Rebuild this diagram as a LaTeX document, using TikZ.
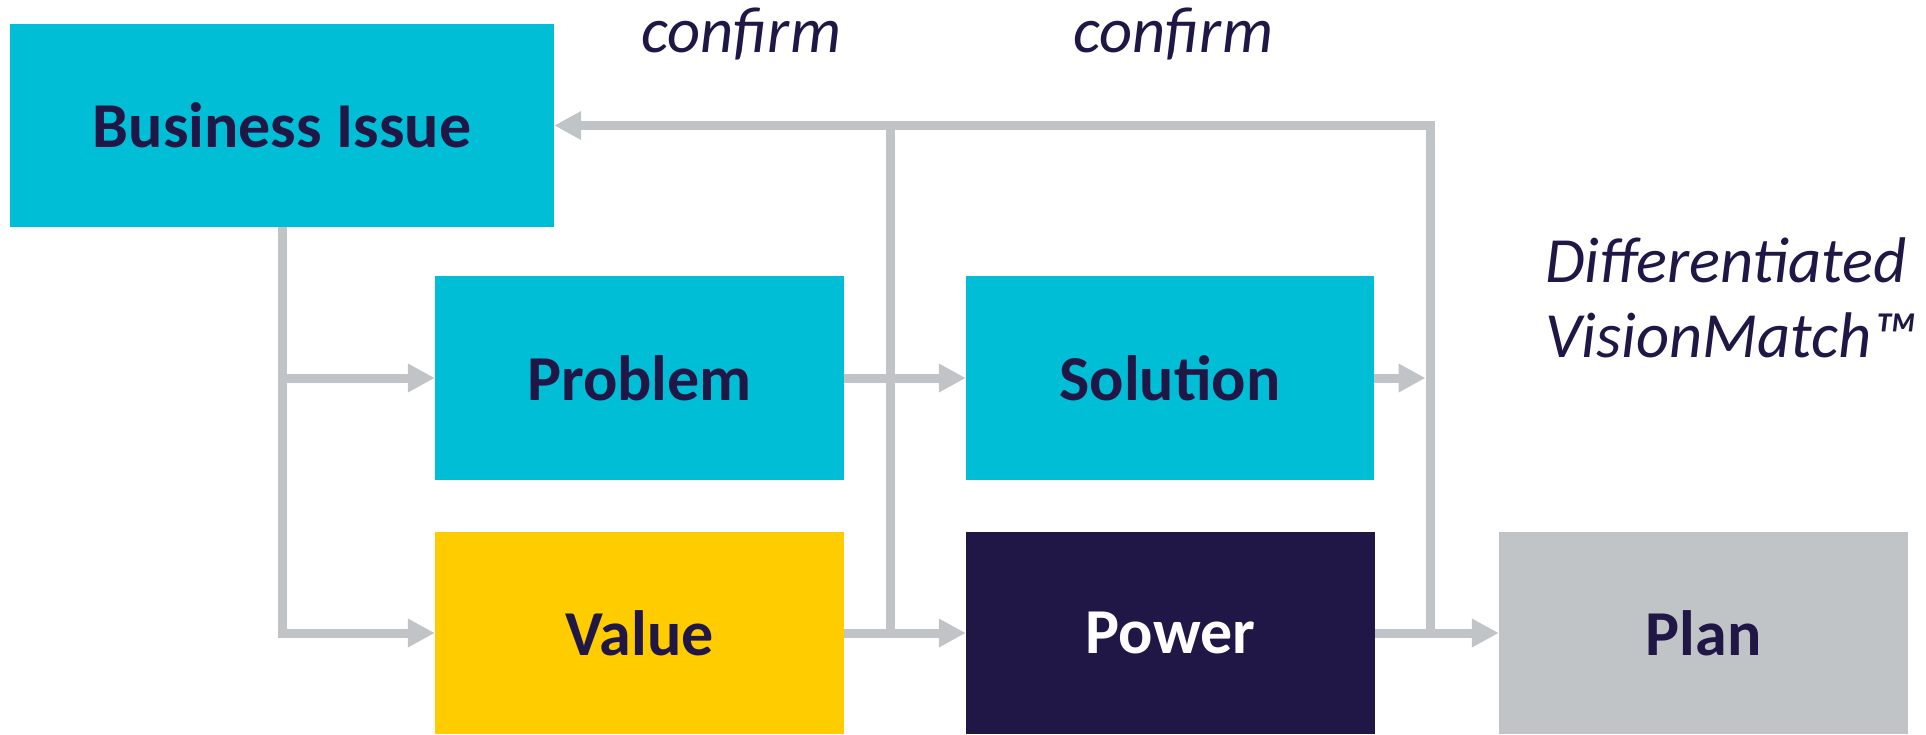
\documentclass[tikz,border=0pt]{standalone}
\usepackage{fontspec}
\setmainfont{Carlito}
\usetikzlibrary{arrows.meta}

\definecolor{cyanbox}{HTML}{00BED6}
\definecolor{navy}{HTML}{211747}
\definecolor{gold}{HTML}{FFCC00}
\definecolor{lightgray}{HTML}{C1C4C7}

\tikzset{
  box/.style={rectangle, inner sep=0pt, minimum width=409pt, minimum height=204pt,
    text=navy, font=\fontsize{64}{77}\selectfont\bfseries},
  flow/.style={draw=lightgray, line width=9pt, line join=miter},
  arr/.style={flow, -{Triangle[length=27pt,width=27pt]}},
  note/.style={inner sep=0pt, text=navy, font=\fontsize{64.5}{77}\selectfont\itshape},
}

\begin{document}
\begin{tikzpicture}[x=1pt, y=-1pt]
  \useasboundingbox (0,0) rectangle (1926,734);

  % boxes
  \node[box, fill=cyanbox, minimum width=544pt, minimum height=203pt] (bi) at (282,125.5) {Business Issue};
  \node[box, fill=cyanbox] (problem)  at (639.5,378) {Problem};
  \node[box, fill=cyanbox, minimum width=408pt] (solution) at (1170,378) {Solution};
  \node[box, fill=gold, minimum height=202pt] (value) at (639.5,633) {Value};
  \node[box, fill=navy, text=white, minimum height=202pt] (power) at (1170.5,633) {Power};
  \node[box, fill=lightgray, minimum height=202pt] (plan) at (1703.5,633) {Plan};

  % junction points of the feedback lines
  \coordinate (mbot) at (890,633);
  \coordinate (mtop) at (890,125.5);
  \coordinate (rbot) at (1430,633);
  \coordinate (rtop) at (1430,125.5);

  % feedback loop back to the business issue
  \draw[flow] (mbot) -- (mtop);
  \draw[arr] (rbot) |- (bi.east);

  % forward flow
  \draw[arr] (bi.south) |- (value.west);
  \draw[arr] (bi.south |- problem.west) -- (problem.west);
  \draw[arr] (problem.east) -- (solution.west);
  \draw[arr] (value.east) -- (power.west);
  \draw[arr] (power.east) -- (plan.west);
  \draw[arr] (solution.east) -- ([xshift=-4.5pt]solution.east -| rtop);

  % labels
  \node[note, anchor=base west] (confirmA) at (641,52) {confirm};
  \node[note, anchor=base west] (confirmB) at (1073,52) {confirm};
  \node[note, anchor=base west] (diffA) at (1545,282) {Differentiated};
  \node[note, anchor=base west] (diffB) at (1545,357) {VisionMatch™};
\end{tikzpicture}
\end{document}
